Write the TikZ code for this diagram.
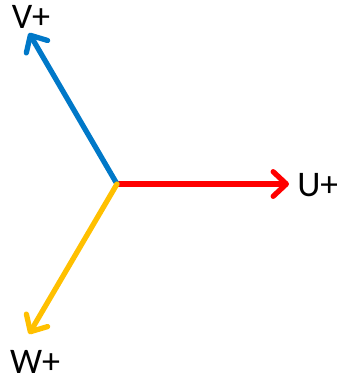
\documentclass[tikz,border=0pt]{standalone}
\usepackage{fontspec}
\setmainfont{Carlito}
\usepackage{xcolor}
\usetikzlibrary{arrows.meta,calc,positioning}
\definecolor{phaseU}{RGB}{255,0,0}
\definecolor{phaseV}{RGB}{0,120,200}
\definecolor{phaseW}{RGB}{255,192,0}

\begin{document}
\begin{tikzpicture}[x=0.02cm,y=-0.02cm,
  phase/.style={line width=3pt,line cap=round,-{Straight Barb[length=7.5pt,width=14pt,line cap=round,line join=round]}},
  lbl/.style={font=\fontsize{20.5}{24}\selectfont,inner sep=0pt}]
\useasboundingbox (0,0) rectangle (337,380);
\coordinate (O) at (117,184);
\coordinate (tipU) at (289,184);
\coordinate (tipV) at (29,33);
\coordinate (tipW) at (29,334);
\node[lbl,anchor=west] (U) at (297,185) {U+};
\node[lbl] (V) at (31,17) {V+};
\node[lbl] (W) at (35,362) {W+};
\draw[phase,phaseU] (O) -- (tipU);
\draw[phase,phaseV] (O) -- (tipV);
\draw[phase,phaseW] (O) -- (tipW);
\end{tikzpicture}
\end{document}
